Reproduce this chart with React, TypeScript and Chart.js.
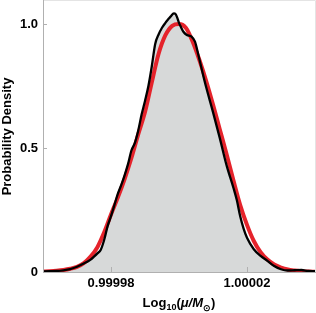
import { useEffect, useRef } from 'react';
import { Chart, registerables } from 'chart.js';

Chart.register(...registerables);

// Log10(mu/Msun) sample-density curve (black, filled)
const kdeX = [
  0.999960, 0.999962, 0.999964, 0.999966, 0.999968, 0.999970, 0.999972, 0.999974,
  0.999975, 0.999976, 0.999977, 0.999978, 0.999979, 0.999980, 0.999981, 0.999982,
  0.999983, 0.999984, 0.999985, 0.999986, 0.999987, 0.999988, 0.999989, 0.999990,
  0.999991, 0.999992, 0.999993, 0.999994, 0.999995, 0.999996, 0.999997,
  0.9999975, 0.9999985, 0.999999, 0.9999995, 1.000000, 1.0000005, 1.0000013,
  1.0000023, 1.0000037, 1.0000047, 1.0000057, 1.000007, 1.000008, 1.000010,
  1.000012, 1.000014, 1.000016, 1.000017, 1.000018, 1.000019, 1.000020, 1.000022,
  1.000024, 1.000026, 1.000028, 1.000030, 1.000032, 1.000034, 1.000036, 1.000038,
  1.000040,
];
const kdeY = [
  0.002, 0.003, 0.004, 0.007, 0.012, 0.021, 0.034, 0.050,
  0.062, 0.075, 0.090, 0.130, 0.185, 0.225, 0.270, 0.315,
  0.350, 0.390, 0.435, 0.490, 0.520, 0.570, 0.635, 0.690,
  0.750, 0.830, 0.920, 0.958, 0.985, 1.005, 1.022,
  1.030, 1.043, 1.040, 1.025, 1.005, 0.990, 0.969,
  0.956, 0.949, 0.929, 0.875, 0.800, 0.745, 0.645,
  0.540, 0.430, 0.340, 0.290, 0.225, 0.175, 0.138, 0.092,
  0.065, 0.045, 0.024, 0.011, 0.006, 0.007, 0.008, 0.004,
  0.003,
];

// Fitted curve (red)
const fitX = [
  0.999960, 0.999962, 0.999964, 0.999966, 0.999968, 0.999970, 0.999972, 0.999974,
  0.999976, 0.999978, 0.999980, 0.999982, 0.999984, 0.999986, 0.999988, 0.999990,
  0.999992, 0.999994, 0.999996, 0.999998, 1.000000, 1.000002, 1.000004, 1.000006,
  1.000008, 1.000010, 1.000012, 1.000014, 1.000016, 1.000018, 1.000020, 1.000022,
  1.000024, 1.000026, 1.000028, 1.000030, 1.000032, 1.000034, 1.000036, 1.000038,
  1.000040,
];
const fitY = [
  0.002, 0.003, 0.005, 0.008, 0.013, 0.021, 0.036, 0.062,
  0.100, 0.160, 0.232, 0.300, 0.375, 0.460, 0.555, 0.645,
  0.765, 0.880, 0.955, 0.993, 1.000, 0.985, 0.930, 0.855,
  0.770, 0.675, 0.575, 0.475, 0.370, 0.270, 0.190, 0.125,
  0.080, 0.050, 0.030, 0.018, 0.010, 0.006, 0.0035, 0.002,
  0.001,
];

const xTickValues = [0.99998, 1.00002];
const xTickLabels = ['0.99998', '1.00002'];
const yTickValues = [0, 0.5, 1.0];
const yTickLabels = ['0', '0.5', '1.0'];

const FAMILY = "'Liberation Sans', Arial, Helvetica, sans-serif";

const decor = {
  id: 'decor',
  afterDraw(chart: any) {
    const { ctx, chartArea: a, scales } = chart;
    ctx.save();
    // light frame top / right
    ctx.strokeStyle = '#e4e4e4';
    ctx.lineWidth = 1;
    ctx.beginPath();
    ctx.moveTo(a.left, a.top - 0.5);
    ctx.lineTo(a.right + 0.5, a.top - 0.5);
    ctx.lineTo(a.right + 0.5, a.bottom);
    ctx.stroke();
    // axes
    ctx.strokeStyle = '#b0b0b0';
    ctx.beginPath();
    ctx.moveTo(a.left + 0.5, a.top - 1);
    ctx.lineTo(a.left + 0.5, a.bottom + 0.5);
    ctx.lineTo(a.right + 1, a.bottom + 0.5);
    ctx.stroke();
    // inward ticks
    ctx.beginPath();
    for (const v of xTickValues) {
      const px = Math.round(scales.x.getPixelForValue(v)) + 0.5;
      ctx.moveTo(px, a.bottom);
      ctx.lineTo(px, a.bottom - 5);
    }
    for (const v of yTickValues) {
      const py = Math.round(scales.y.getPixelForValue(v)) + 0.5;
      ctx.moveTo(a.left, py);
      ctx.lineTo(a.left + 4, py);
    }
    ctx.stroke();
    // x-axis title with subscripts
    const parts = [
      { t: 'Log', f: `bold 13px ${FAMILY}`, dy: 0 },
      { t: '10', f: `bold 9px ${FAMILY}`, dy: 3 },
      { t: '(', f: `bold 13px ${FAMILY}`, dy: 0 },
      { t: 'μ/M', f: `italic bold 13px ${FAMILY}`, dy: 0 },
      { t: '⊙', f: `bold 9px ${FAMILY}`, dy: 4 },
      { t: ')', f: `bold 13px ${FAMILY}`, dy: 0 },
    ];
    let total = 0;
    const widths: number[] = [];
    for (const p of parts) {
      ctx.font = p.f;
      const w = ctx.measureText(p.t).width;
      widths.push(w);
      total += w;
    }
    let x = (a.left + a.right) / 2 - total / 2;
    const base = 307;
    ctx.fillStyle = '#000';
    ctx.textBaseline = 'alphabetic';
    ctx.textAlign = 'left';
    parts.forEach((p, i) => {
      ctx.font = p.f;
      ctx.fillText(p.t, x, base + p.dy);
      x += widths[i];
    });
    ctx.restore();
  },
};

export default function App() {
  const ref = useRef<HTMLCanvasElement | null>(null);
  useEffect(() => {
    document.body.style.margin = '0';
    const canvas = ref.current!;
    const kde = kdeX.map((x, i) => ({ x, y: kdeY[i] }));
    const fit = fitX.map((x, i) => ({ x, y: fitY[i] }));
    const chart = new Chart(canvas, {
      type: 'line',
      data: {
        datasets: [
          {
            data: kde,
            borderWidth: 0,
            borderColor: 'rgba(0,0,0,0)',
            backgroundColor: '#d7d9d9',
            fill: 'origin',
            pointRadius: 0,
            cubicInterpolationMode: 'monotone',
            order: 3,
          },
          {
            data: fit,
            borderWidth: 4,
            borderColor: '#e5232b',
            fill: false,
            pointRadius: 0,
            cubicInterpolationMode: 'monotone',
            order: 2,
          },
          {
            data: kde,
            borderWidth: 2.3,
            borderColor: '#000000',
            fill: false,
            pointRadius: 0,
            cubicInterpolationMode: 'monotone',
            order: 1,
          },
        ],
      },
      options: {
        responsive: false,
        animation: false,
        parsing: false as any,
        layout: { padding: { top: 1, right: 1, left: 0, bottom: 0 } },
        plugins: { legend: { display: false }, tooltip: { enabled: false } },
        scales: {
          x: {
            type: 'linear',
            min: 0.99996,
            max: 1.00004,
            grid: { display: false, drawTicks: false },
            border: { display: false },
            afterBuildTicks: (s: any) => {
              s.ticks = xTickValues.map((v) => ({ value: v }));
            },
            afterFit: (s: any) => {
              s.height = 41;
              s.paddingLeft = 0;
              s.paddingRight = 0;
            },
            ticks: {
              autoSkip: false,
              maxRotation: 0,
              padding: 4,
              color: '#000',
              font: { family: FAMILY, size: 13, weight: 'bold' },
              callback: (v: any) => {
                const i = xTickValues.findIndex((t) => Math.abs(t - Number(v)) < 1e-9);
                return i >= 0 ? xTickLabels[i] : '';
              },
            },
          },
          y: {
            type: 'linear',
            min: 0,
            max: 1.093,
            grid: { display: false, drawTicks: false },
            border: { display: false },
            afterBuildTicks: (s: any) => {
              s.ticks = yTickValues.map((v) => ({ value: v }));
            },
            afterFit: (s: any) => {
              s.width = 43;
              s.paddingTop = 0;
              s.paddingBottom = 0;
            },
            title: {
              display: true,
              text: 'Probability Density',
              color: '#000',
              padding: 0,
              font: { family: FAMILY, size: 13, weight: 'bold' },
            },
            ticks: {
              padding: 5,
              color: '#000',
              font: { family: FAMILY, size: 13, weight: 'bold' },
              callback: (v: any) => {
                const i = yTickValues.findIndex((t) => Math.abs(t - Number(v)) < 1e-9);
                return i >= 0 ? yTickLabels[i] : '';
              },
            },
          },
        },
      },
      plugins: [decor],
    });
    return () => chart.destroy();
  }, []);
  return (
    <div style={{ width: 316, height: 313 }}>
      <canvas ref={ref} width={316} height={313} style={{ display: 'block' }} />
    </div>
  );
}
